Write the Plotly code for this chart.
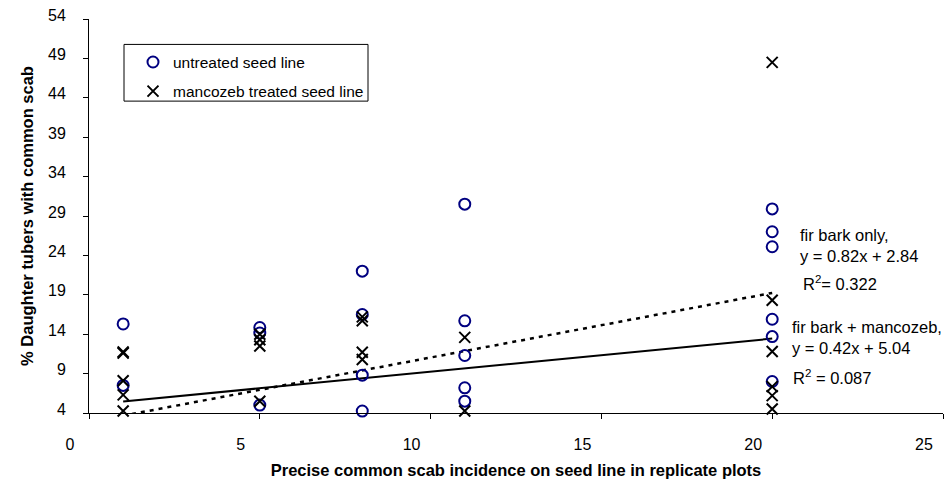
import plotly.graph_objects as go

# ---------------- data ----------------
untreated_x = [1, 1,
               5, 5, 5,
               8, 8, 8, 8,
               11, 11, 11, 11, 11,
               20, 20, 20, 20, 20, 20]
untreated_y = [15.3, 7.5,
               14.85, 14.15, 5.0,
               22.0, 16.5, 8.8, 4.25,
               30.5, 15.7, 11.3, 7.2, 5.5,
               29.9, 27.0, 25.1, 15.9, 13.7, 8.0]

treated_x = [1, 1, 1, 1, 1,
             5, 5, 5, 5,
             8, 8, 8, 8,
             11, 11,
             20, 20, 20, 20, 20, 20]
treated_y = [11.75, 11.6, 8.1, 6.3, 4.25,
             14.0, 13.3, 12.5, 5.5,
             16.2, 15.7, 11.7, 10.8,
             13.6, 4.25,
             48.5, 18.3, 11.8, 7.35, 6.2, 4.5]

trend_x_range = [1, 20]
trend_untreated = {"slope": 0.82, "intercept": 2.84}   # fir bark only
trend_treated = {"slope": 0.42, "intercept": 5.04}     # fir bark + mancozeb

series_names = ["untreated seed line", "mancozeb treated seed line"]
x_title = "Precise common scab incidence on seed line in replicate plots"
y_title = "% Daughter tubers with common scab"
ann_texts = ["fir bark only,<br>y = 0.82x + 2.84",
             "R<sup>2</sup>= 0.322",
             "fir bark + mancozeb,<br>y = 0.42x + 5.04",
             "R<sup>2</sup> = 0.087"]

# ---------------- layout geometry ----------------
W, H = 950, 484
L, R, T, B = 89, 7, 17, 64
PW, PH = W - L - R, H - T - B
FONT = "Liberation Sans, Arial, sans-serif"


def px_x(px):
    return (px - L) / PW


def px_y(py):
    return (H - B - py) / PH


def trend_y(t):
    return [t["slope"] * x + t["intercept"] for x in trend_x_range]


fig = go.Figure()

fig.add_trace(go.Scatter(
    x=trend_x_range, y=trend_y(trend_treated), mode="lines",
    line=dict(color="black", width=2), showlegend=False, hoverinfo="skip"))
fig.add_trace(go.Scatter(
    x=trend_x_range, y=trend_y(trend_untreated), mode="lines",
    line=dict(color="black", width=2.5, dash="4px,5px"), showlegend=False,
    hoverinfo="skip"))

fig.add_trace(go.Scatter(
    x=untreated_x, y=untreated_y, mode="markers", name=series_names[0],
    legendgroup="a", cliponaxis=False,
    marker=dict(symbol="circle-open", size=11, color="#000080",
                line=dict(color="#000080", width=2))))
fig.add_trace(go.Scatter(
    x=treated_x, y=treated_y, mode="markers", name=series_names[1],
    legendgroup="b", cliponaxis=False,
    marker=dict(symbol="x-thin-open", size=11, color="black",
                line=dict(color="black", width=2))))

axis_common = dict(showline=True, linecolor="black", linewidth=1,
                   ticks="outside", ticklen=5, tickcolor="black",
                   showgrid=False, zeroline=False,
                   tickfont=dict(family=FONT, size=16, color="black"))

fig.update_xaxes(range=[0, 25], tick0=0, dtick=5, ticklabelshift=-19,
                 ticklabelstandoff=12,
                 title=dict(text=x_title, standoff=12,
                            font=dict(family=FONT, size=16.5, color="black",
                                      weight="bold")),
                 **axis_common)
fig.update_yaxes(range=[4, 54], tick0=4, dtick=5, ticklabelshift=-4,
                 ticklabelstandoff=14,
                 title=dict(text=y_title, standoff=10,
                            font=dict(family=FONT, size=16.5, color="black",
                                      weight="bold")),
                 **axis_common)

ann_pos = [(798, 249), (801, 287), (790, 343), (791, 383)]
annotations = []
for txt, (ax, ay) in zip(ann_texts, ann_pos):
    annotations.append(dict(text=txt, x=px_x(ax), y=px_y(ay), xref="paper",
                            yref="paper", xanchor="left", yanchor="middle",
                            align="left", showarrow=False,
                            font=dict(family=FONT, size=16.5, color="black")))

fig.update_layout(
    width=W, height=H,
    margin=dict(l=L, r=R, t=T, b=B),
    paper_bgcolor="white", plot_bgcolor="white",
    font=dict(family=FONT, size=16, color="black"),
    annotations=annotations,
    shapes=[dict(type="rect", xref="paper", yref="paper",
                 x0=px_x(124), x1=px_x(368), y0=px_y(101), y1=px_y(43),
                 line=dict(color="black", width=1), fillcolor="rgba(0,0,0,0)")],
    legend=dict(x=px_x(133), y=px_y(44), xanchor="left", yanchor="top",
                bgcolor="rgba(0,0,0,0)", borderwidth=0, tracegroupgap=6,
                font=dict(family=FONT, size=15.5, color="black")),
    showlegend=True,
)

fig.write_html("out.html")
